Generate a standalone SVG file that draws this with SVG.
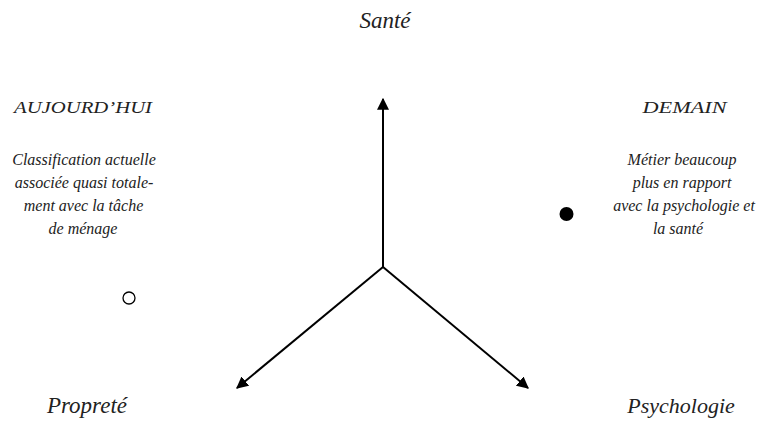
<svg xmlns="http://www.w3.org/2000/svg" width="758" height="424" viewBox="0 0 758 424">
<style>
.conn{stroke:#000;stroke-width:2;fill:none}
</style>
<defs>
<marker id="ah" viewBox="0 0 10 10" refX="9" refY="5" markerWidth="6" markerHeight="6" markerUnits="strokeWidth" orient="auto">
<path d="M0,0 L10,5 L0,10 z" fill="#000"/>
</marker>
</defs>
<rect width="758" height="424" fill="#fff"/>
<g id="connectors">
<line class="conn" x1="383" y1="267" x2="383" y2="99" marker-end="url(#ah)"/>
<line class="conn" x1="383" y1="267" x2="237" y2="388" marker-end="url(#ah)"/>
<line class="conn" x1="383" y1="267" x2="528" y2="388" marker-end="url(#ah)"/>
</g>
<g id="sante"><text font-family="Liberation Serif" font-style="italic" font-size="23" fill="#222" text-anchor="middle" x="385" y="28">Santé</text></g>
<g id="proprete"><text font-family="Liberation Serif" font-style="italic" font-size="23" fill="#222" text-anchor="middle" x="87" y="413">Propreté</text></g>
<g id="psychologie"><text font-family="Liberation Serif" font-style="italic" font-size="22" fill="#222" text-anchor="middle" x="681" y="413">Psychologie</text></g>
<g id="aujourdhui">
<text font-family="Liberation Serif" font-style="italic" font-size="17" fill="#222" text-anchor="middle" x="83" y="113" textLength="138" lengthAdjust="spacingAndGlyphs">AUJOURD’HUI</text>
<text font-family="Liberation Serif" font-style="italic" font-size="16" fill="#222" text-anchor="middle" x="84" y="165">Classification actuelle</text>
<text font-family="Liberation Serif" font-style="italic" font-size="16" fill="#222" text-anchor="middle" x="84" y="188">associée quasi totale-</text>
<text font-family="Liberation Serif" font-style="italic" font-size="16" fill="#222" text-anchor="middle" x="83.5" y="211">ment avec la tâche</text>
<text font-family="Liberation Serif" font-style="italic" font-size="16" fill="#222" text-anchor="middle" x="83" y="234">de ménage</text>
</g>
<g id="demain">
<text font-family="Liberation Serif" font-style="italic" font-size="17" fill="#222" text-anchor="middle" x="684.5" y="113" textLength="84" lengthAdjust="spacingAndGlyphs">DEMAIN</text>
<text font-family="Liberation Serif" font-style="italic" font-size="16" fill="#222" text-anchor="middle" x="682" y="165">Métier beaucoup</text>
<text font-family="Liberation Serif" font-style="italic" font-size="16" fill="#222" text-anchor="middle" x="682" y="188">plus en rapport</text>
<text font-family="Liberation Serif" font-style="italic" font-size="16" fill="#222" text-anchor="middle" x="684" y="211">avec la psychologie et</text>
<text font-family="Liberation Serif" font-style="italic" font-size="16" fill="#222" text-anchor="middle" x="678" y="234">la santé</text>
</g>
<g id="point-aujourdhui"><circle cx="129" cy="298" r="6" fill="#fff" stroke="#000" stroke-width="1.3"/></g>
<g id="point-demain"><circle cx="566.5" cy="214" r="7" fill="#000"/></g>
</svg>
